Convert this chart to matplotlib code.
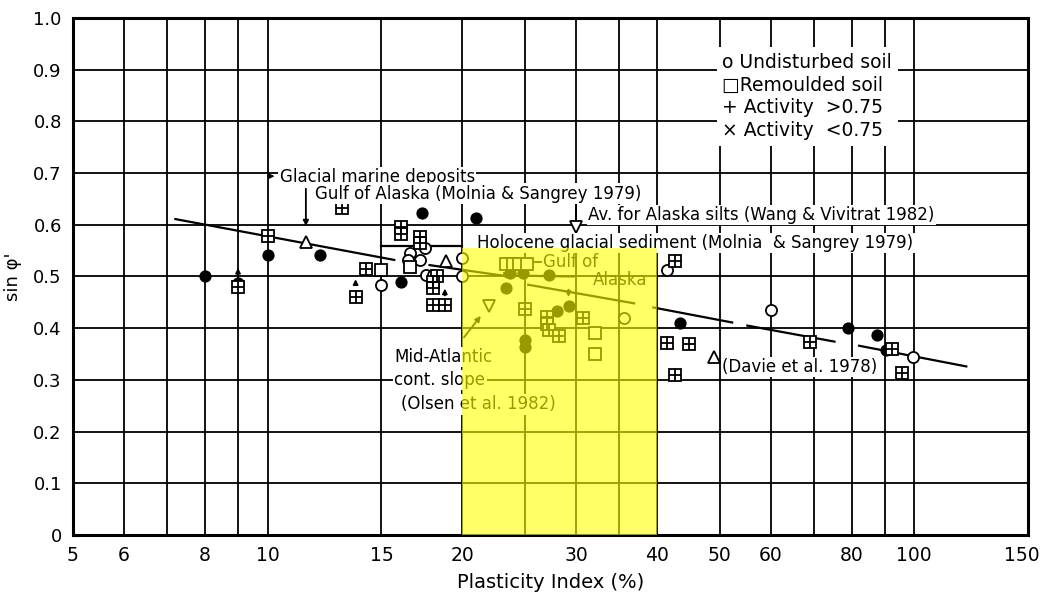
import matplotlib
matplotlib.use("Agg")
import matplotlib.pyplot as plt
import matplotlib.transforms as mtransforms
from matplotlib.patches import Rectangle
from matplotlib.ticker import FixedLocator, FixedFormatter, NullFormatter

FONT = ["DejaVu Sans"]

# ---- data -------------------------------------------------------------
# Undisturbed soil (open circles)
open_circ_x = [15, 16.6, 17.2, 16.5, 17.6, 18.0, 20, 20, 35.6, 41.4, 60, 99.7, 17.5]
open_circ_y = [0.483, 0.545, 0.532, 0.532, 0.503, 0.503, 0.535, 0.50, 0.419, 0.513, 0.435, 0.344, 0.555]

# Undisturbed soil with activity mark (dark circles)
dark_circ_x = [8, 9, 10, 12.05, 16.1, 17.3, 21.0, 23.35, 23.7, 24.8, 27.2, 28.0, 29.2, 25, 25, 43.4, 79.0, 87.6, 90.3]
dark_circ_y = [0.50, 0.487, 0.542, 0.542, 0.49, 0.622, 0.614, 0.477, 0.506, 0.506, 0.503, 0.434, 0.442, 0.377, 0.364, 0.41, 0.40, 0.387, 0.358]

# Remoulded soil with activity mark (crossed squares)
cross_sq_x = [10, 13.04, 16.07, 16.07, 17.2, 17.2, 14.18, 13.68, 18.3, 18.0, 18.0, 18.0, 18.8, 25, 27.0, 27.0,
              27.2, 28.2, 30.8, 42.6, 41.4, 44.9, 42.6, 68.9, 92.5, 95.9, 9]
cross_sq_y = [0.578, 0.632, 0.595, 0.582, 0.576, 0.565, 0.514, 0.461, 0.50, 0.49, 0.478, 0.445, 0.445, 0.438, 0.421, 0.408,
              0.397, 0.384, 0.419, 0.529, 0.371, 0.369, 0.309, 0.374, 0.359, 0.314, 0.48]

# Remoulded soil (open squares)
open_sq_x = [15, 16.6, 23.35, 24.0, 24.5, 25.2, 32.1, 32.1]
open_sq_y = [0.513, 0.519, 0.525, 0.525, 0.525, 0.525, 0.39, 0.351]

# Literature averages
tri_up_x = [11.46, 18.9, 49.1]
tri_up_y = [0.567, 0.529, 0.344]
tri_dn_x = [22.0, 30]
tri_dn_y = [0.443, 0.596]

# Trend lines
glacial_x = [7.2, 15.7]
glacial_y = [0.611, 0.532]
holocene_x = [17.8, 23.0, 29.7]
holocene_y = [0.522, 0.502, 0.500]
gulf_x = [25.3, 36.9]
gulf_y = [0.484, 0.448]
bracket_x = [15, 20]
bracket_y = [0.558, 0.558]
davie_x = [(39.5, 52.3), (55.2, 75.3), (82.2, 120.4)]
davie_y = [(0.440, 0.411), (0.405, 0.374), (0.366, 0.326)]

# Small arrows attached to individual tests: x, start y, end y
stem_x = [9, 13.68, 18.8, 29.2, 23.35]
stem_y0 = [0.500, 0.478, 0.458, 0.480, 0.505]
stem_y1 = [0.522, 0.500, 0.482, 0.455, 0.490]

x_ticks = [5, 6, 8, 10, 15, 20, 30, 40, 50, 60, 80, 100, 150]
x_minor = [7, 9, 25, 35, 70, 90]
y_ticks = [0, 0.1, 0.2, 0.3, 0.4, 0.5, 0.6, 0.7, 0.8, 0.9, 1.0]
y_labels = ["0", "0.1", "0.2", "0.3", "0.4", "0.5", "0.6", "0.7", "0.8", "0.9", "1.0"]

# ---- figure -----------------------------------------------------------
fig = plt.figure(figsize=(10.44, 5.97), dpi=100)
ax = fig.add_axes([0.0699, 0.1039, 0.9148, 0.866])
ax.set_xscale("log")
ax.set_xlim(5, 150)
ax.set_ylim(0, 1.0)

ax.xaxis.set_major_locator(FixedLocator(x_ticks))
ax.xaxis.set_major_formatter(FixedFormatter([str(v) for v in x_ticks]))
ax.xaxis.set_minor_locator(FixedLocator(x_minor))
ax.xaxis.set_minor_formatter(NullFormatter())
ax.yaxis.set_major_locator(FixedLocator(y_ticks))
ax.yaxis.set_major_formatter(FixedFormatter(y_labels))
ax.tick_params(which="both", length=0, pad=8)
ax.tick_params(axis="x", labelsize=13.5)
ax.tick_params(axis="y", labelsize=13)
for lab in ax.get_xticklabels() + ax.get_yticklabels():
    lab.set_family(FONT)
# keep the last x label inside the canvas
last = ax.get_xticklabels()[-1]
last.set_transform(last.get_transform() + mtransforms.ScaledTranslation(-6 / 100, 0, fig.dpi_scale_trans))

ax.grid(True, which="both", color="black", lw=1.3, zorder=0)
ax.set_axisbelow(True)
for sp in ax.spines.values():
    sp.set_linewidth(2.2)

ax.set_xlabel("Plasticity Index (%)", fontsize=14, family=FONT, labelpad=6)
ax.set_ylabel("sin φ'", fontsize=13, family=FONT, labelpad=8)

# trend lines
lkw = dict(color="black", lw=1.6, zorder=3)
ax.plot(glacial_x, glacial_y, **lkw)
ax.plot(holocene_x, holocene_y, **lkw)
ax.plot(gulf_x, gulf_y, **lkw)
ax.plot(bracket_x, bracket_y, **lkw)
for xs, ys in zip(davie_x, davie_y):
    ax.plot(xs, ys, **lkw)

for x, y0, y1 in zip(stem_x, stem_y0, stem_y1):
    ax.annotate("", xy=(x, y1), xytext=(x, y0),
                arrowprops=dict(arrowstyle="-|>", color="black", lw=1.3, mutation_scale=7), zorder=4)

# markers
ms = 8
ax.plot(open_circ_x, open_circ_y, "o", ms=ms, mfc="white", mec="black", mew=1.3, zorder=5)
ax.plot(dark_circ_x, dark_circ_y, "o", ms=7.5, mfc="black", mec="black", mew=1.3, zorder=5)
ax.plot(cross_sq_x, cross_sq_y, "s", ms=ms, mfc="white", mec="black", mew=1.3, zorder=5)
ax.plot(cross_sq_x, cross_sq_y, "+", ms=ms, mec="black", mew=1.3, zorder=6)
ax.plot(open_sq_x, open_sq_y, "s", ms=ms, mfc="white", mec="black", mew=1.3, zorder=5)
ax.plot(tri_up_x, tri_up_y, "^", ms=ms + 1, mfc="white", mec="black", mew=1.3, zorder=5)
ax.plot(tri_dn_x, tri_dn_y, "v", ms=ms + 1, mfc="white", mec="black", mew=1.3, zorder=5)

# annotations
box = dict(facecolor="white", edgecolor="none", pad=1.0)
tkw = dict(fontsize=12, family=FONT, va="center", zorder=7, bbox=box)
ax.text(10.44, 0.692, "Glacial marine deposits", **tkw)
ax.text(11.84, 0.660, "Gulf of Alaska (Molnia & Sangrey 1979)", **tkw)
ax.annotate("", xy=(11.46, 0.592), xytext=(11.46, 0.675),
            arrowprops=dict(arrowstyle="-|>", color="black", lw=1.3, mutation_scale=8), zorder=4)
ax.annotate("", xy=(10.35, 0.694), xytext=(9.9, 0.694),
            arrowprops=dict(arrowstyle="-|>", color="black", lw=1.0, mutation_scale=7), zorder=4)
ax.text(31.3, 0.619, "Av. for Alaska silts (Wang & Vivitrat 1982)", **tkw)
ax.plot([30, 30], [0.638, 0.606], color="black", lw=1.3, zorder=4)
ax.text(21.1, 0.565, "Holocene glacial sediment (Molnia  & Sangrey 1979)", **tkw)
ax.text(26.66, 0.528, "Gulf of", fontsize=12, family=FONT, va="center", zorder=7)
ax.plot([25.9, 26.5], [0.528, 0.528], color="black", lw=1.3, zorder=4)
ax.text(38.7, 0.493, "Alaska", fontsize=12, family=FONT, va="center", ha="right", zorder=7)
ax.text(15.7, 0.344, "Mid-Atlantic", **tkw)
ax.text(15.7, 0.300, "cont. slope", **tkw)
ax.text(16.06, 0.253, "(Olsen et al. 1982)", **tkw)
ax.annotate("", xy=(21.5, 0.428), xytext=(20.0, 0.378),
            arrowprops=dict(arrowstyle="-|>", color="black", lw=1.3, mutation_scale=8), zorder=4)
ax.text(50.5, 0.325, "(Davie et al. 1978)", **tkw)

legend_text = "o Undisturbed soil\n\u25a1Remoulded soil\n+ Activity  >0.75\n\u00d7 Activity  <0.75"
ax.text(50.5, 0.848, legend_text, fontsize=13.5, family=FONT, va="center", ha="left",
        linespacing=1.25, zorder=7, bbox=dict(facecolor="white", edgecolor="none", pad=4))

# highlighted band of plasticity index
ax.add_patch(Rectangle((20, 0), 20, 0.555, facecolor=(1, 1, 0), edgecolor="none", alpha=0.6, zorder=10))

fig.savefig("out.png", dpi=100)
